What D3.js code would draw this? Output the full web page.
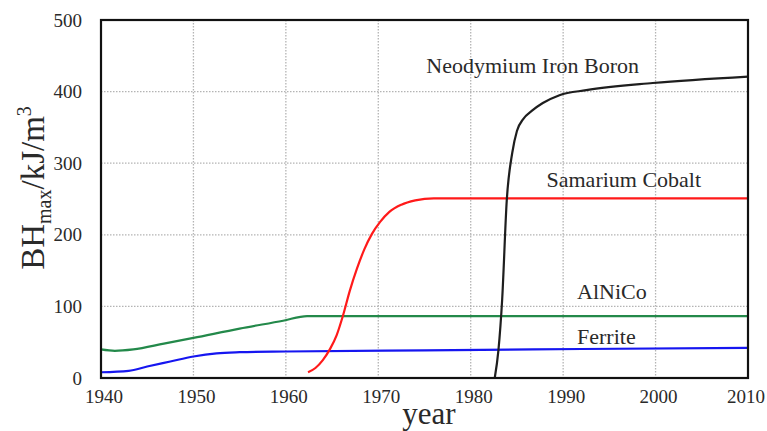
<!DOCTYPE html>
<html>
<head>
<meta charset="utf-8">
<script src="https://cdn.jsdelivr.net/npm/d3@7"></script>
<style>
  body { margin: 0; background: #fff; }
  svg text { font-family: "Liberation Serif", "Times New Roman", "DejaVu Serif", serif; fill: #2a2a2a; }
</style>
</head>
<body>
<div id="chart"></div>
<script>
// ticks
const xTicks = [1940, 1950, 1960, 1970, 1980, 1990, 2000, 2010]
const yTicks = [0, 100, 200, 300, 400, 500]

// series
const ferriteYears  = [1940, 1943, 1945, 1947.5, 1950, 1952.5, 1955, 1960, 1975, 1992, 2010]
const ferriteValues = [8, 10, 16, 23, 30, 34.5, 36, 37, 38.5, 40.5, 42]

const alnicoYears  = [1940, 1941.5, 1943.5, 1946.8, 1950, 1955, 1959.7, 1962.3, 2010]
const alnicoValues = [40, 38, 40, 48, 56, 69, 80, 86.5, 86.5]

const smcoYears  = [1962.4, 1963.2, 1964, 1964.8, 1965.5, 1966.2, 1966.9, 1967.7, 1968.5, 1969.3, 1970.2, 1971.2, 1972.5, 1974, 1976, 2010]
const smcoValues = [8, 14, 25, 41, 60, 88, 121, 153, 180, 201, 218, 232, 242, 248, 251, 251]

const ndfebYears  = [1982.6, 1983, 1983.4, 1983.9, 1984.5, 1985, 1985.7, 1986.6, 1987.8, 1989.6, 1992.5, 1999.7, 2010]
const ndfebValues = [0, 39, 109, 248, 315, 345, 362, 373, 384, 395, 402, 412, 421]

const seriesNames = ['Ferrite', 'AlNiCo', 'Samarium Cobalt', 'Neodymium Iron Boron']
const seriesColors = ['#1616f0', '#23894a', '#ff1a1a', '#1e1e1e']

// label anchors (year, value at text baseline start)
const labelYears  = [1991.5, 1991.5, 1988.2, 1975.2]
const labelValues = [48, 111, 267, 426]

const width = 767, height = 431
const plot = { left: 101, right: 748, top: 20, bottom: 378 }

const svg = d3.select('#chart').append('svg')
    .attr('width', width)
    .attr('height', height)

const x = d3.scaleLinear().domain([1940, 2010]).range([plot.left, plot.right])
const y = d3.scaleLinear().domain([0, 500]).range([plot.bottom, plot.top])

// grid
svg.append('g').selectAll('line')
    .data(xTicks.slice(1, -1))
    .enter().append('line')
    .attr('x1', d => x(d)).attr('x2', d => x(d))
    .attr('y1', plot.top).attr('y2', plot.bottom)
    .style('stroke', '#b4b4b4').style('stroke-width', 1.3).style('stroke-dasharray', '1.5,1.5')

svg.append('g').selectAll('line')
    .data(yTicks.slice(1, -1))
    .enter().append('line')
    .attr('y1', d => y(d)).attr('y2', d => y(d))
    .attr('x1', plot.left).attr('x2', plot.right)
    .style('stroke', '#b4b4b4').style('stroke-width', 1.3).style('stroke-dasharray', '1.5,1.5')

// tick labels
svg.append('g').selectAll('text')
    .data(yTicks)
    .enter().append('text')
    .attr('x', 82)
    .attr('y', d => y(d))
    .attr('dy', '.35em')
    .attr('text-anchor', 'end')
    .style('font-size', '19px')
    .text(d => d)

svg.append('g').selectAll('text')
    .data(xTicks)
    .enter().append('text')
    .attr('x', d => Math.min(x(d) + 3, 746))
    .attr('y', 403)
    .attr('text-anchor', 'middle')
    .style('font-size', '19px')
    .text(d => d)

// axis titles
svg.append('text')
    .attr('x', 429)
    .attr('y', 424)
    .attr('text-anchor', 'middle')
    .style('font-size', '31px')
    .text('year')

const yTitle = svg.append('text')
    .attr('transform', 'translate(44,188) rotate(-90)')
    .attr('text-anchor', 'middle')
    .style('font-size', '33px')
yTitle.append('tspan').text('BH')
yTitle.append('tspan').attr('dy', 7).style('font-size', '20px').text('max')
yTitle.append('tspan').attr('dy', -7).text('/kJ/m')
yTitle.append('tspan').attr('dy', -13).style('font-size', '20px').text('3')

// lines
const series = [
    { years: ferriteYears, values: ferriteValues },
    { years: alnicoYears, values: alnicoValues },
    { years: smcoYears, values: smcoValues },
    { years: ndfebYears, values: ndfebValues },
]

const line = d3.line()
    .x(p => x(p[0]))
    .y(p => y(p[1]))
    .curve(d3.curveMonotoneX)

svg.append('g').selectAll('path')
    .data(series)
    .enter().append('path')
    .attr('d', d => line(d.years.map((yr, i) => [yr, d.values[i]])))
    .style('fill', 'none')
    .style('stroke', (d, i) => seriesColors[i])
    .style('stroke-width', 2.2)

// frame
svg.append('rect')
    .attr('x', plot.left).attr('y', plot.top)
    .attr('width', plot.right - plot.left)
    .attr('height', plot.bottom - plot.top)
    .style('fill', 'none')
    .style('stroke', '#111')
    .style('stroke-width', 2.2)

// series labels
svg.append('g').selectAll('text')
    .data(seriesNames)
    .enter().append('text')
    .attr('x', (d, i) => x(labelYears[i]))
    .attr('y', (d, i) => y(labelValues[i]))
    .style('font-size', '22px')
    .text(d => d)
</script>
</body>
</html>
